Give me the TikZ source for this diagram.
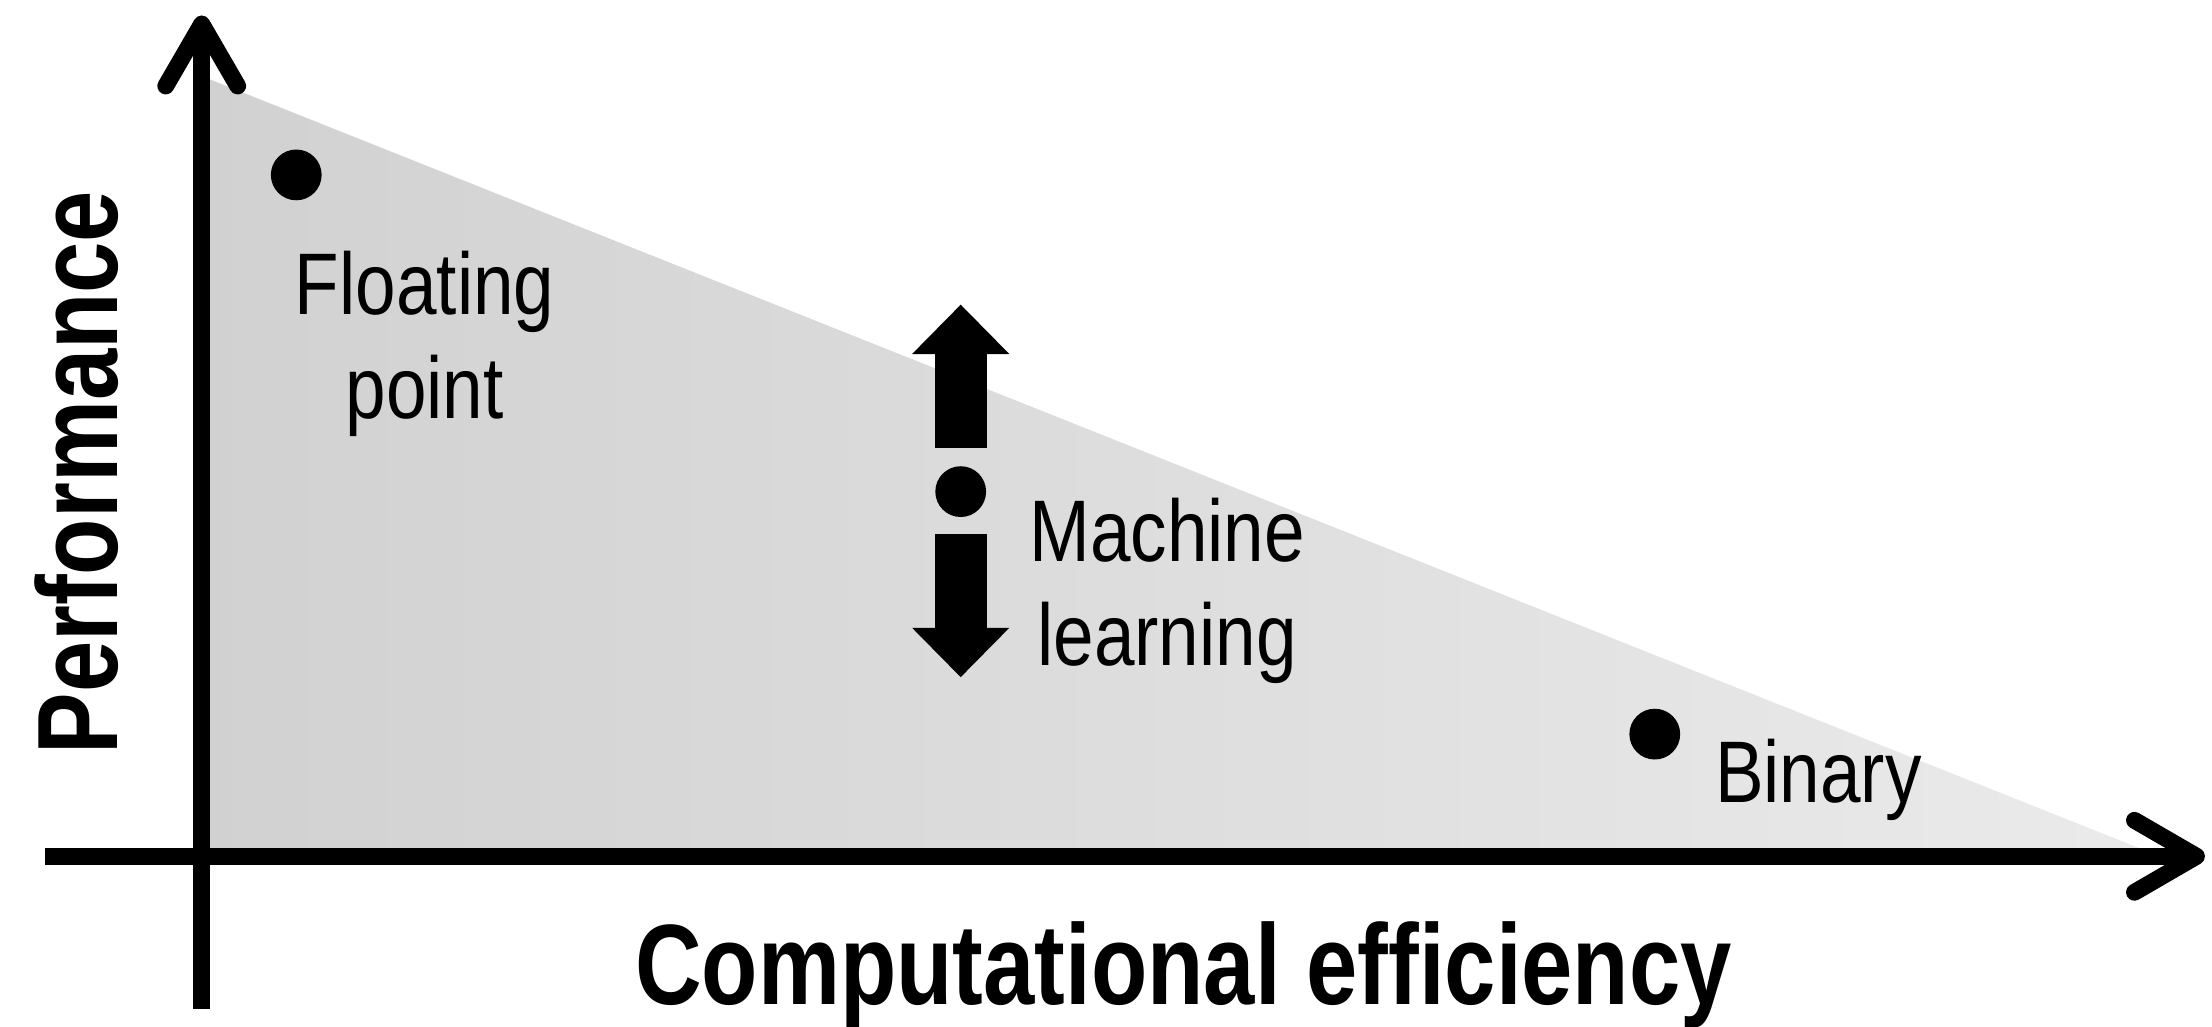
\documentclass[tikz,border=0pt]{standalone}
\usepackage{fontspec}
\setmainfont{Liberation Sans}
\usetikzlibrary{arrows.meta}
\pgfdeclarelayer{shadelayer}
\pgfsetlayers{shadelayer,main}
\tikzstyle{axis}=[draw=black, line width=3.4pt]
\tikzstyle{axisarrow}=[-{Straight Barb[length=4.4mm, width=5.1mm, round]}]
\tikzstyle{dot}=[circle, fill=black, inner sep=0pt, minimum size=3.6mm]
\tikzstyle{bigarrow}=[line width=3.7mm, -{Triangle[length=3.5mm, width=6.9mm, line width=0pt]}]
\tikzstyle{pointtext}=[inner sep=0pt, align=center, yscale=1.2, font=\fontsize{14.7}{17.5}\selectfont]
\tikzstyle{axistext}=[inner sep=0pt, yscale=1.24, font=\fontsize{18.6}{22}\selectfont\bfseries]

\begin{document}
\begin{tikzpicture}
	\useasboundingbox (-1.43,-1.21) rectangle (14.25,6.07);
	\begin{pgfonlayer}{shadelayer}
		\shade [left color=black!18, right color=black!8] (0,5.53) -- (0,0) -- (13.88,0) -- cycle;
	\end{pgfonlayer}
	\coordinate (ytop) at (0,5.96);
	\coordinate (ybot) at (0,-1.08);
	\coordinate (xleft) at (-1.11,0);
	\coordinate (xright) at (14.2,0);
	\draw [style=axis, style=axisarrow] (ybot) -- (ytop);
	\draw [style=axis, style=axisarrow] (xleft) -- (xright);
	\node [rotate=90, style=axistext, anchor=base] (perf) at (-0.6,2.72) {Performance};
	\node [style=axistext, anchor=base] (comp) at (6.96,-1.05) {Computational efficiency};
	\node [style=dot] (fp) at (0.67,4.83) {};
	\node [style=dot] (ml) at (5.38,2.585) {};
	\node [style=dot] (bin) at (10.3,0.866) {};
	\node [style=pointtext, anchor=north] (fptext) at (1.58,4.3) {Floating\\point};
	\node [style=pointtext, anchor=north west] (mltext) at (5.86,2.55) {Machine\\learning};
	\node [style=pointtext, anchor=north west] (bintext) at (10.72,0.84) {Binary};
	\coordinate (mlup) at (5.38,3.91);
	\coordinate (mldown) at (5.38,1.27);
	\draw [style=bigarrow] ([yshift=1.2mm]ml.north) -- (mlup);
	\draw [style=bigarrow] ([yshift=-1.1mm]ml.south) -- (mldown);
\end{tikzpicture}
\end{document}
